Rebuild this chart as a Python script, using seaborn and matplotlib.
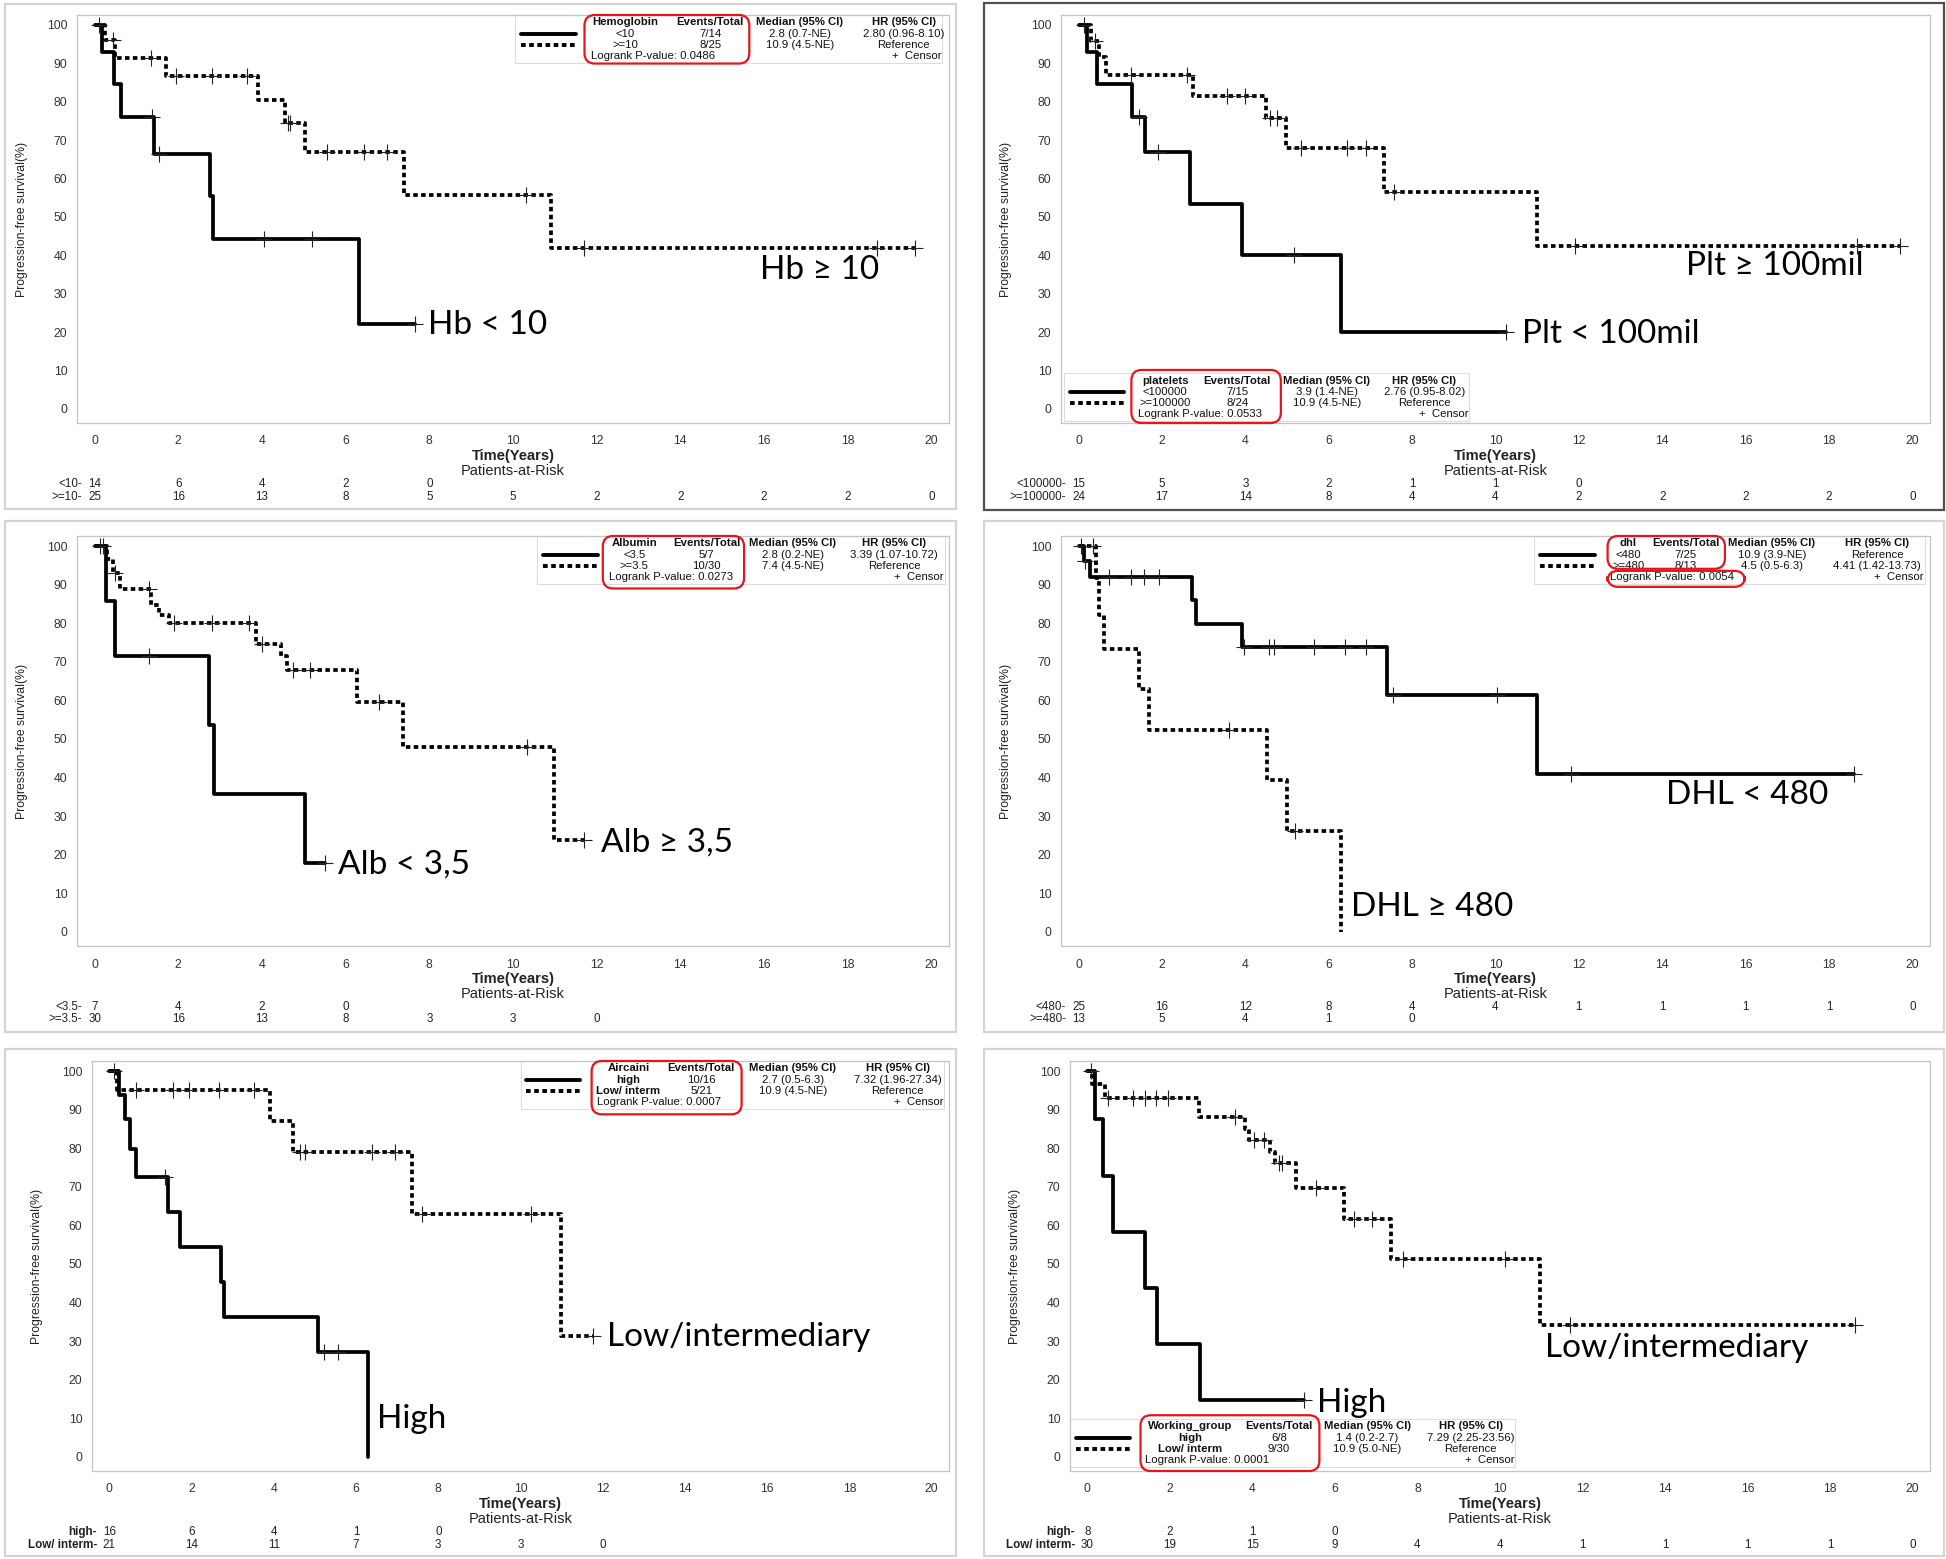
import numpy as np
import pandas as pd
import matplotlib
matplotlib.use("Agg")
import matplotlib.pyplot as plt
from matplotlib.patches import Rectangle, FancyBboxPatch
import seaborn as sns

sns.set_theme(style="white")
plt.rcParams["font.family"] = ["Liberation Sans", "DejaVu Sans"]

# --- curves: step times, survival (%), censor times ---
hb_lo_t = [0, 0.18, 0.46, 0.62, 1.43, 2.76, 2.83, 6.32, 7.65]
hb_lo_s = [100, 92.9, 84.6, 76.0, 66.5, 55.4, 44.3, 22.2, 22.2]
hb_lo_c = [1.38, 1.53, 4.06, 5.2, 7.65]
hb_hi_t = [0, 0.25, 0.5, 1.7, 3.9, 4.54, 5.04, 7.39, 10.9, 19.6]
hb_hi_s = [100, 96.0, 91.5, 86.6, 80.5, 74.5, 66.8, 55.7, 41.8, 41.8]
hb_hi_c = [0.1, 0.45, 1.34, 1.95, 2.8, 3.65, 4.62, 4.68, 5.56, 6.44, 6.99, 10.3, 11.7, 18.7, 19.6]

plt_lo_t = [0, 0.2, 0.45, 1.28, 1.6, 2.68, 3.93, 6.29, 10.25]
plt_lo_s = [100, 92.9, 84.6, 76.1, 66.8, 53.3, 40.0, 20.0, 20.0]
plt_lo_c = [1.45, 1.9, 5.16, 10.25]
plt_hi_t = [0, 0.3, 0.5, 0.65, 2.74, 4.5, 4.98, 7.33, 11.0, 19.7]
plt_hi_s = [100, 95.8, 91.6, 87.0, 81.4, 75.8, 68.0, 56.5, 42.3, 42.3]
plt_hi_c = [0.12, 0.4, 1.25, 2.6, 3.55, 4.0, 4.6, 4.75, 5.33, 6.44, 6.9, 7.57, 11.9, 18.66, 19.7]

alb_lo_t = [0, 0.27, 0.5, 2.73, 2.85, 5.04, 5.5]
alb_lo_s = [100, 85.7, 71.4, 53.6, 35.7, 17.9, 17.9]
alb_lo_c = [1.3, 5.5]
alb_hi_t = [0, 0.3, 0.45, 0.6, 1.35, 1.55, 1.78, 3.86, 4.45, 4.6, 6.26, 7.36, 10.98, 11.7]
alb_hi_s = [100, 96.6, 93.0, 88.8, 84.6, 82.0, 80.0, 74.6, 71.4, 67.8, 59.5, 47.8, 23.8, 23.8]
alb_hi_c = [0.12, 0.2, 0.5, 1.3, 1.9, 2.8, 3.7, 4.0, 4.75, 5.16, 6.8, 10.33, 11.7]

dhl_lo_t = [0, 0.12, 0.27, 2.73, 2.82, 3.92, 7.39, 11.0, 18.6]
dhl_lo_s = [100, 96.0, 92.0, 85.9, 79.8, 73.7, 61.4, 41.0, 41.0]
dhl_lo_c = [0.06, 0.15, 0.74, 1.25, 1.57, 1.93, 3.97, 4.57, 4.69, 5.64, 6.38, 6.9, 7.54, 10.03, 11.8, 18.6]
dhl_hi_t = [0, 0.42, 0.5, 0.62, 1.45, 1.7, 4.51, 5.01, 6.3]
dhl_hi_s = [100, 91.7, 82.1, 73.4, 62.9, 52.4, 39.3, 26.2, 0.0]
dhl_hi_c = [0.35, 3.6, 5.19]

air_hi_t = [0, 0.24, 0.39, 0.51, 0.66, 1.42, 1.72, 2.71, 2.8, 5.07, 6.3]
air_hi_s = [100, 93.8, 87.5, 79.7, 72.4, 63.4, 54.3, 45.2, 36.2, 27.1, 0.0]
air_hi_c = [1.36, 5.22, 5.55]
air_lo_t = [0, 0.2, 3.92, 4.47, 7.36, 10.98, 11.77]
air_lo_s = [100, 95.2, 87.0, 79.0, 62.9, 31.4, 31.4]
air_lo_c = [0.12, 0.66, 1.54, 1.93, 2.68, 3.53, 4.65, 4.75, 6.4, 6.94, 7.6, 10.26, 11.77]

wg_hi_t = [0, 0.18, 0.39, 0.63, 1.39, 1.69, 2.74, 5.24]
wg_hi_s = [100, 87.5, 72.9, 58.3, 43.8, 29.2, 14.6, 14.6]
wg_hi_c = [5.24]
wg_lo_t = [0, 0.12, 0.42, 2.7, 3.83, 3.92, 4.43, 4.55, 5.06, 6.23, 7.35, 10.96, 18.6]
wg_lo_s = [100, 96.7, 92.9, 88.0, 85.0, 82.2, 79.0, 76.1, 69.7, 61.7, 51.3, 34.2, 34.2]
wg_lo_c = [0.08, 0.5, 1.1, 1.4, 1.66, 1.96, 3.58, 4.05, 4.28, 4.64, 4.72, 5.54, 6.45, 6.9, 7.65, 10.12, 11.7, 18.6]

# --- patients at risk (every 2 years) ---
risk_years = list(range(0, 21, 2))
hb_risk = [[14, 6, 4, 2, 0], [25, 16, 13, 8, 5, 5, 2, 2, 2, 2, 0]]
plt_risk = [[15, 5, 3, 2, 1, 1, 0], [24, 17, 14, 8, 4, 4, 2, 2, 2, 2, 0]]
alb_risk = [[7, 4, 2, 0], [30, 16, 13, 8, 3, 3, 0]]
dhl_risk = [[25, 16, 12, 8, 4, 4, 1, 1, 1, 1, 0], [13, 5, 4, 1, 0]]
air_risk = [[16, 6, 4, 1, 0], [21, 14, 11, 7, 3, 3, 0]]
wg_risk = [[8, 2, 1, 0], [30, 19, 15, 9, 4, 4, 1, 1, 1, 1, 0]]

# --- legend tables ---
hb_table = [["Hemoglobin", "Events/Total", "Median (95% CI)", "HR (95% CI)"],
            ["<10", "7/14", "2.8 (0.7-NE)", "2.80 (0.96-8.10)"],
            [">=10", "8/25", "10.9 (4.5-NE)", "Reference"]]
plt_table = [["platelets", "Events/Total", "Median (95% CI)", "HR (95% CI)"],
             ["<100000", "7/15", "3.9 (1.4-NE)", "2.76 (0.95-8.02)"],
             [">=100000", "8/24", "10.9 (4.5-NE)", "Reference"]]
alb_table = [["Albumin", "Events/Total", "Median (95% CI)", "HR (95% CI)"],
             ["<3.5", "5/7", "2.8 (0.2-NE)", "3.39 (1.07-10.72)"],
             [">=3.5", "10/30", "7.4 (4.5-NE)", "Reference"]]
dhl_table = [["dhl", "Events/Total", "Median (95% CI)", "HR (95% CI)"],
             ["<480", "7/25", "10.9 (3.9-NE)", "Reference"],
             [">=480", "8/13", "4.5 (0.5-6.3)", "4.41 (1.42-13.73)"]]
air_table = [["Aircaini", "Events/Total", "Median (95% CI)", "HR (95% CI)"],
             ["high", "10/16", "2.7 (0.5-6.3)", "7.32 (1.96-27.34)"],
             ["Low/ interm", "5/21", "10.9 (4.5-NE)", "Reference"]]
wg_table = [["Working_group", "Events/Total", "Median (95% CI)", "HR (95% CI)"],
            ["high", "6/8", "1.4 (0.2-2.7)", "7.29 (2.25-23.56)"],
            ["Low/ interm", "9/30", "10.9 (5.0-NE)", "Reference"]]
pvalues = ["0.0486", "0.0533", "0.0273", "0.0054", "0.0007", "0.0001"]

panels = [
    dict(curves=[(hb_lo_t, hb_lo_s, hb_lo_c), (hb_hi_t, hb_hi_s, hb_hi_c)],
         risk=hb_risk, rlab=["<10-", ">=10-"], table=hb_table,
         labels=[("Hb \u2265 10", 15.9, 36.1), ("Hb < 10", 7.98, 21.9)],
         ax=[77, 15, 949, 423], box=[5, 4, 956, 509], frame="#d4d4d4",
         leg=dict(x=0.509, top=0.982, cols=[0.629, 0.726, 0.829, 0.948],
                  red=[(0.582, 0.771, 0.881, 1.0)], lr=0.590, cen=0.991), bold=False),
    dict(curves=[(plt_lo_t, plt_lo_s, plt_lo_c), (plt_hi_t, plt_hi_s, plt_hi_c)],
         risk=plt_risk, rlab=["<100000-", ">=100000-"], table=plt_table,
         labels=[("Plt \u2265 100mil", 14.57, 37.1), ("Plt < 100mil", 10.64, 19.4)],
         ax=[1061, 15, 1930, 423], box=[984, 3, 1944, 510], frame="#505050",
         leg=dict(x=0.01, top=0.104, cols=[0.12, 0.203, 0.306, 0.418],
                  red=[(0.081, 0.253, 0.0, 0.13)], lr=0.089, cen=0.469), bold=False),
    dict(curves=[(alb_lo_t, alb_lo_s, alb_lo_c), (alb_hi_t, alb_hi_s, alb_hi_c)],
         risk=alb_risk, rlab=["<3.5-", ">=3.5-"], table=alb_table,
         labels=[("Alb \u2265 3,5", 12.1, 23.2), ("Alb < 3,5", 5.82, 17.4)],
         ax=[77, 536, 949, 946], box=[5, 521, 956, 1032], frame="#d4d4d4",
         leg=dict(x=0.534, top=0.982, cols=[0.639, 0.722, 0.821, 0.937],
                  red=[(0.603, 0.765, 0.872, 1.0)], lr=0.610, cen=0.994), bold=False),
    dict(curves=[(dhl_lo_t, dhl_lo_s, dhl_lo_c), (dhl_hi_t, dhl_hi_s, dhl_hi_c)],
         risk=dhl_risk, rlab=["<480-", ">=480-"], table=dhl_table,
         labels=[("DHL < 480", 14.1, 35.5), ("DHL \u2265 480", 6.53, 6.5)],
         ax=[1061, 536, 1930, 946], box=[984, 521, 1944, 1032], frame="#d4d4d4",
         leg=dict(x=0.551, top=0.982, cols=[0.653, 0.719, 0.818, 0.939],
                  red=[(0.629, 0.764, 0.92, 1.0), (0.629, 0.787, 0.876, 0.915)],
                  lr=0.632, cen=0.993), bold=False),
    dict(curves=[(air_hi_t, air_hi_s, air_hi_c), (air_lo_t, air_lo_s, air_lo_c)],
         risk=air_risk, rlab=["high-", "Low/ interm-"], table=air_table,
         labels=[("Low/intermediary", 12.1, 31.0), ("High", 6.52, 9.7)],
         ax=[92, 1061, 949, 1471], box=[5, 1049, 956, 1556], frame="#d4d4d4",
         leg=dict(x=0.507, top=0.982, cols=[0.626, 0.711, 0.818, 0.940],
                  red=[(0.583, 0.758, 0.87, 1.0)], lr=0.589, cen=0.993), bold=True),
    dict(curves=[(wg_hi_t, wg_hi_s, wg_hi_c), (wg_lo_t, wg_lo_s, wg_lo_c)],
         risk=wg_risk, rlab=["high-", "Low/ interm-"], table=wg_table,
         labels=[("Low/intermediary", 11.1, 28.1), ("High", 5.57, 13.9)],
         ax=[1070, 1061, 1930, 1471], box=[984, 1049, 1944, 1556], frame="#d4d4d4",
         leg=dict(x=0.007, top=0.109, cols=[0.140, 0.243, 0.346, 0.466],
                  red=[(0.082, 0.290, 0.0, 0.136)], lr=0.087, cen=0.517), bold=True),
]

W, H = 1946, 1559
fig = plt.figure(figsize=(W / 100, H / 100), dpi=100)
DASH = (0, (1.2, 0.9))
big_font = ["Lato", "DejaVu Sans"]
LEG_FS = 8.2
RISK_FS = 8.4


def surv_at(ts, ss, t):
    i = np.searchsorted(ts, t, side="right") - 1
    return ss[max(i, 0)]


for p in panels:
    x0, y0, x1, y1 = p["ax"]
    ax = fig.add_axes([x0 / W, 1 - y1 / H, (x1 - x0) / W, (y1 - y0) / H])
    bx0, by0, bx1, by1 = p["box"]
    fig.add_artist(Rectangle((bx0 / W, 1 - by1 / H), (bx1 - bx0) / W, (by1 - by0) / H,
                             transform=fig.transFigure, fill=False, ec=p["frame"], lw=1.6))

    for k, (ts, ss, cs) in enumerate(p["curves"]):
        df = pd.DataFrame({"t": ts, "s": ss})
        sns.lineplot(data=df, x="t", y="s", ax=ax, estimator=None, sort=False,
                     drawstyle="steps-post", color="black", lw=2.7,
                     linestyle="-" if k == 0 else DASH)
        cy = [surv_at(ts, ss, c) for c in cs]
        sns.scatterplot(x=cs, y=cy, ax=ax, marker="+", s=120, color="#222222",
                        linewidth=0.8, zorder=5)

    ax.set_xlim(-0.42, 20.42)
    ax.set_ylim(-3.7, 102.6)
    ax.set_xticks(range(0, 21, 2))
    ax.set_yticks(range(0, 101, 10))
    ax.tick_params(axis="both", length=4, width=0.7, color="#999999",
                   labelsize=8.8, labelcolor="#333333", direction="out")
    ax.tick_params(axis="x", pad=5)
    ax.tick_params(axis="y", pad=3)
    for sp in ax.spines.values():
        sp.set_color("#c4c4c4")
        sp.set_linewidth(0.9)
    ax.set_xlabel("")
    ax.set_ylabel("Progression-free survival(%)", fontsize=8.8, color="#222222")
    ax.yaxis.set_label_coords(-49 / (x1 - x0), 0.5)

    # big group labels
    for txt, lx, ly in p["labels"]:
        ax.text(lx, ly, txt, fontsize=24, family=big_font, color="black",
                ha="left", va="center")

    # x title and patients at risk
    tr = ax.get_xaxis_transform()
    hpx = y1 - y0
    ax.text(10, -33 / hpx, "Time(Years)", transform=tr, ha="center", va="center",
            fontsize=10.5, fontweight="bold", color="#222222")
    ax.text(10, -48 / hpx, "Patients-at-Risk", transform=tr, ha="center", va="center",
            fontsize=10.5, color="#222222")
    for r, (row, lab) in enumerate(zip(p["risk"], p["rlab"])):
        yy = -(61 + 12.5 * r) / hpx
        ax.text(-0.3, yy, lab, transform=tr, ha="right", va="center", fontsize=RISK_FS,
                color="#222222", fontweight="bold" if p["bold"] else "normal")
        for yr, n in zip(risk_years, row):
            ax.text(yr, yy, str(n), transform=tr, ha="center", va="center",
                    fontsize=RISK_FS, color="#222222")

    # legend table
    lg = p["leg"]
    dy = 11.2 / hpx
    rows_y = [lg["top"] - i * dy for i in range(4)]
    tb = p["table"]
    for j, cx in enumerate(lg["cols"]):
        ax.text(cx, rows_y[0], tb[0][j], transform=ax.transAxes, ha="center",
                va="center", fontsize=LEG_FS, fontweight="bold", color="#111111")
        for i in (1, 2):
            bold = p["bold"] and j == 0
            ax.text(cx, rows_y[i], tb[i][j], transform=ax.transAxes, ha="center",
                    va="center", fontsize=LEG_FS, color="#111111",
                    fontweight="bold" if bold else "normal")
    ax.text(lg["lr"], rows_y[3], "Logrank P-value: " + pvalues[panels.index(p)],
            transform=ax.transAxes, ha="left", va="center", fontsize=LEG_FS,
            color="#111111")
    ax.text(lg["cen"], rows_y[3], "+  Censor", transform=ax.transAxes, ha="right",
            va="center", fontsize=LEG_FS, color="#111111")
    ax.plot([lg["x"], lg["x"] + 0.063], [rows_y[1], rows_y[1]], color="black", lw=2.8,
            transform=ax.transAxes)
    ax.plot([lg["x"], lg["x"] + 0.063], [rows_y[2], rows_y[2]], color="black", lw=2.8,
            linestyle=DASH, transform=ax.transAxes)
    ax.add_patch(Rectangle((lg["x"] - 0.007, rows_y[3] - 0.6 * dy),
                           lg["cen"] + 0.008 - lg["x"], 3.6 * dy + 0.6 * dy + 0.002,
                           transform=ax.transAxes, fill=False, ec="#dddddd", lw=0.8,
                           clip_on=False))
    asp = (x1 - x0) / (y1 - y0)
    for (rx0, rx1, ry0, ry1) in lg["red"]:
        ax.add_patch(FancyBboxPatch((rx0, ry0), rx1 - rx0, ry1 - ry0,
                                    boxstyle="round,pad=0,rounding_size=0.012",
                                    mutation_aspect=asp, transform=ax.transAxes,
                                    fill=False, ec="#e8141c", lw=1.6, clip_on=False,
                                    zorder=6))

fig.savefig("out.png", dpi=100)
